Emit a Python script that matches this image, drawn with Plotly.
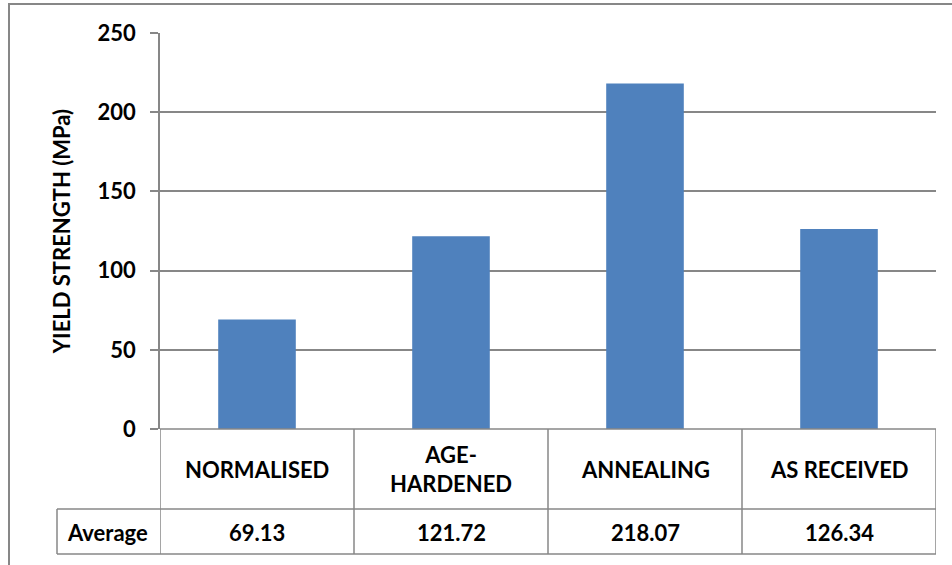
import plotly.graph_objects as go

categories = ["NORMALISED", "AGE-HARDENED", "ANNEALING", "AS RECEIVED"]
category_labels = ["NORMALISED", "AGE-<br>HARDENED", "ANNEALING", "AS RECEIVED"]
average_values = [69.13, 121.72, 218.07, 126.34]
y_ticks = [0, 50, 100, 150, 200, 250]

FONT = "Lato"
GRAY = "#878787"
BAR = "#4F81BD"
TXT = dict(family=FONT, size=22, color="black", weight="bold")

fig = go.Figure()
fig.add_trace(go.Bar(x=categories, y=average_values, marker=dict(color=BAR, line=dict(width=0)),
                     width=0.4, showlegend=False))

# table geometry in paper coords (plot area: 160..936 px, 33..429 px)
row1_bottom = -80 / 396
row2_bottom = -125 / 396
label_left = (57 - 160) / 776

shapes = []
shapes.append(dict(type="line", xref="x", yref="paper", x0=-0.5, x1=3.5, y0=0, y1=0,
                   line=dict(color=GRAY, width=1.5)))
for yb in (row1_bottom, row2_bottom):
    shapes.append(dict(type="line", xref="paper", yref="paper", x0=label_left, x1=1, y0=yb, y1=yb,
                       line=dict(color=GRAY, width=1.5)))
for i in range(len(categories) + 1):
    shapes.append(dict(type="line", xref="x", yref="paper", x0=i - 0.5, x1=i - 0.5, y0=row2_bottom, y1=0,
                       line=dict(color=GRAY, width=1.5)))
shapes.append(dict(type="line", xref="paper", yref="paper", x0=label_left, x1=label_left,
                   y0=row2_bottom, y1=row1_bottom, line=dict(color=GRAY, width=1.5)))
# outer chart border
shapes.append(dict(type="rect", xref="paper", yref="paper", x0=(9 - 160) / 776, x1=(965 - 160) / 776,
                   y0=(429 - 580) / 396, y1=(429 - 4) / 396, line=dict(color=GRAY, width=2)))

annotations = []
for cat, lab, val in zip(categories, category_labels, average_values):
    annotations.append(dict(x=cat, xref="x", y=-40 / 396, yref="paper", text=lab, showarrow=False,
                            xanchor="center", yanchor="middle", font=TXT, align="center"))
    annotations.append(dict(x=cat, xref="x", y=-103 / 396, yref="paper", text=f"{val:.2f}", showarrow=False,
                            xanchor="center", yanchor="middle", font=TXT, align="center"))
annotations.append(dict(x=(107 - 160) / 776, xref="paper", y=-103 / 396, yref="paper", text="Average",
                        showarrow=False, xanchor="center", yanchor="middle", font=TXT))

fig.update_layout(
    width=952, height=565,
    margin=dict(l=160, r=16, t=33, b=136),
    paper_bgcolor="white", plot_bgcolor="white",
    font=TXT,
    bargap=0.6,
    shapes=shapes,
    annotations=annotations,
    xaxis=dict(showticklabels=False, showgrid=False, showline=False, zeroline=False, ticks="",
               range=[-0.5, 3.5]),
    yaxis=dict(range=[0, 250], tickvals=y_ticks, showgrid=True, gridcolor=GRAY, gridwidth=1.5,
               zeroline=False, showline=True, linecolor=GRAY, linewidth=1.5,
               ticks="outside", ticklen=8, tickcolor=GRAY, tickwidth=1.5,
               ticklabelstandoff=10,
               tickfont=TXT,
               title=dict(text="<b>YIELD STRENGTH (MPa)</b>", standoff=21, font=TXT)),
)

fig.write_html("out.html", config={"displayModeBar": False},
               post_script="document.body.style.margin='0';")
